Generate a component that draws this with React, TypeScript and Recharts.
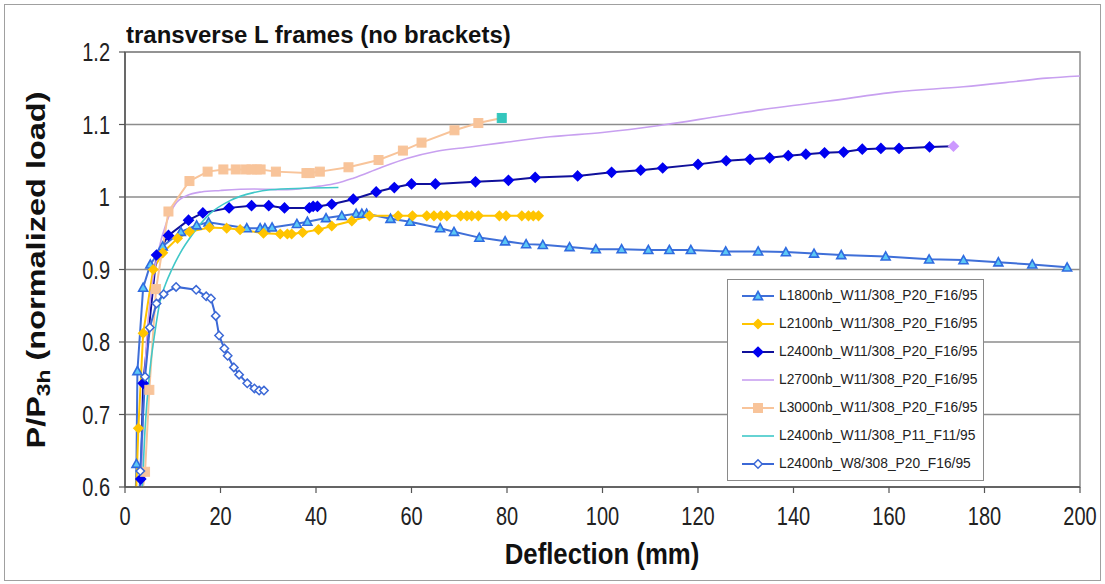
import React from 'react';
import { LineChart, Line, XAxis, YAxis, CartesianGrid, ReferenceArea } from 'recharts';

const FONT = '"Liberation Sans", Arial, Helvetica, sans-serif';

const xTicks = [0, 20, 40, 60, 80, 100, 120, 140, 160, 180, 200];
const yTicks = [0.6, 0.7, 0.8, 0.9, 1, 1.1, 1.2];

const L1800: [number, number][] = [
  [2.2, 0.58], [2.4, 0.632], [2.6, 0.76], [3.8, 0.875], [5.3, 0.907], [7.9, 0.932], [11.7, 0.952],
  [15.0, 0.961], [17.5, 0.965], [25.5, 0.957], [28.3, 0.957], [29.3, 0.957], [30.8, 0.958],
  [36.0, 0.963], [38.2, 0.966], [42.1, 0.971], [45.4, 0.974], [48.4, 0.977], [49.6, 0.977],
  [50.6, 0.977], [55.6, 0.970], [59.7, 0.966], [66.0, 0.957], [68.9, 0.952], [74.2, 0.944],
  [79.6, 0.939], [84.0, 0.935], [87.5, 0.934], [93.1, 0.931], [98.6, 0.928], [104.0, 0.928],
  [109.6, 0.927], [114.0, 0.927], [118.5, 0.927], [125.8, 0.925], [132.6, 0.925], [138.4, 0.924],
  [144.3, 0.922], [150.0, 0.920], [159.3, 0.918], [168.4, 0.914], [175.6, 0.913], [182.9, 0.910],
  [190.0, 0.907], [197.3, 0.903],
];

const L2100: [number, number][] = [
  [2.3, 0.585], [2.8, 0.681], [3.8, 0.812], [5.9, 0.9], [7.9, 0.923], [11.0, 0.943], [13.5, 0.952],
  [17.7, 0.958], [21.3, 0.957], [24.1, 0.955], [29.0, 0.95], [32.5, 0.949], [34.0, 0.949],
  [34.9, 0.949], [37.2, 0.951], [40.5, 0.955], [43.3, 0.96], [47.5, 0.967], [51.2, 0.974],
  [57.2, 0.974], [60.2, 0.974], [63.2, 0.974], [64.7, 0.974], [66.1, 0.974], [67.4, 0.974],
  [70.3, 0.974], [71.6, 0.974], [72.6, 0.974], [74.0, 0.974], [78.4, 0.974], [79.8, 0.974],
  [83.1, 0.974], [84.5, 0.974], [85.5, 0.974], [86.6, 0.974],
];

const L2400: [number, number][] = [
  [3.0, 0.585], [3.3, 0.611], [3.8, 0.743], [6.6, 0.92], [9.1, 0.947], [13.3, 0.968], [16.3, 0.978],
  [21.8, 0.985], [26.5, 0.988], [30.1, 0.988], [33.4, 0.985], [38.6, 0.985], [39.4, 0.987],
  [40.3, 0.987], [43.3, 0.99], [47.8, 0.997], [52.6, 1.007], [56.4, 1.013], [60.0, 1.018],
  [65.0, 1.018], [73.4, 1.021], [80.3, 1.023], [85.9, 1.027], [94.8, 1.029], [101.9, 1.034],
  [108.0, 1.037], [112.6, 1.04], [120.0, 1.045], [125.9, 1.05], [130.9, 1.052], [135.0, 1.054],
  [138.9, 1.057], [142.6, 1.059], [146.5, 1.061], [150.5, 1.062], [154.4, 1.066], [158.3, 1.067],
  [162.1, 1.067], [168.5, 1.069], [173.5, 1.07],
];

const L2700: [number, number][] = [
  [3.3, 0.58], [3.8, 0.7], [4.5, 0.8], [5.5, 0.87], [6.8, 0.92], [8.7, 0.965], [10.5, 0.99],
  [13.0, 1.002], [16.0, 1.007], [20.0, 1.009], [27.0, 1.011], [34.0, 1.01], [40.8, 1.015],
  [44.3, 1.019], [47.8, 1.026], [53.4, 1.04], [59.0, 1.053], [65.3, 1.063], [72.3, 1.069],
  [79.2, 1.075], [89.0, 1.083], [100.0, 1.089], [112.3, 1.099], [125.0, 1.112], [135.0, 1.122],
  [147.0, 1.132], [161.6, 1.145], [175.6, 1.152], [186.0, 1.159], [193.0, 1.164], [200.0, 1.167],
];

const L3000: [number, number][] = [
  [3.5, 0.585], [4.2, 0.621], [5.1, 0.734], [6.5, 0.873], [9.1, 0.98], [13.5, 1.022], [17.3, 1.035],
  [20.6, 1.038], [23.2, 1.038], [25.3, 1.038], [26.5, 1.038], [27.6, 1.038], [28.4, 1.038],
  [31.6, 1.035], [38.0, 1.033], [38.7, 1.033], [40.8, 1.035], [46.8, 1.041], [53.1, 1.051],
  [58.2, 1.064], [62.1, 1.075], [69.0, 1.092], [74.0, 1.102], [78.9, 1.109],
];

const L2400P11: [number, number][] = [
  [3.0, 0.55], [3.5, 0.585], [4.2, 0.68], [5.2, 0.76], [6.3, 0.815], [7.3, 0.855], [8.5, 0.88],
  [9.8, 0.9], [11.5, 0.922], [14.3, 0.95], [17.8, 0.977], [22.0, 0.995], [26.9, 1.006],
  [30.4, 1.01], [37.3, 1.012], [44.7, 1.013],
];

const L2400W8: [number, number][] = [
  [3.0, 0.585], [3.2, 0.622], [4.2, 0.752], [5.2, 0.82], [6.6, 0.853], [8.1, 0.866], [10.7, 0.876],
  [14.9, 0.872], [17.0, 0.863], [18.0, 0.86], [19.0, 0.836], [19.7, 0.809], [20.8, 0.791],
  [21.5, 0.781], [22.8, 0.765], [23.9, 0.755], [25.6, 0.743], [27.1, 0.736], [28.1, 0.733],
  [29.1, 0.733],
];

type Shape = 'triangle' | 'diamond' | 'square' | 'none';

interface Series {
  name: string;
  data: [number, number][];
  stroke: string;
  width: number;
  shape: Shape;
  fill: string;
  mstroke: string;
  size: number;
  lastFill?: string;
  curve: 'linear' | 'monotone';
}

const SERIES: Series[] = [
  { name: 'L1800nb_W11/308_P20_F16/95', data: L1800, stroke: '#3f6fd8', width: 2, shape: 'triangle', fill: '#5cc8f5', mstroke: '#2f6be0', size: 4.5, curve: 'linear' },
  { name: 'L2100nb_W11/308_P20_F16/95', data: L2100, stroke: '#ffc400', width: 2, shape: 'diamond', fill: '#ffc400', mstroke: '#ffc400', size: 4.5, curve: 'linear' },
  { name: 'L2400nb_W11/308_P20_F16/95', data: L2400, stroke: '#10109a', width: 2, shape: 'diamond', fill: '#0000f0', mstroke: '#0000f0', size: 4.8, lastFill: '#cc99ff', curve: 'linear' },
  { name: 'L2700nb_W11/308_P20_F16/95', data: L2700, stroke: '#c8a0f0', width: 1.6, shape: 'none', fill: '#c8a0f0', mstroke: '#c8a0f0', size: 0, curve: 'monotone' },
  { name: 'L3000nb_W11/308_P20_F16/95', data: L3000, stroke: '#f8c49a', width: 2, shape: 'square', fill: '#f8c49a', mstroke: '#f8c49a', size: 4.5, lastFill: '#33c6bd', curve: 'linear' },
  { name: 'L2400nb_W11/308_P11_F11/95', data: L2400P11, stroke: '#40c8c8', width: 1.6, shape: 'none', fill: '#40c8c8', mstroke: '#40c8c8', size: 0, curve: 'monotone' },
  { name: 'L2400nb_W8/308_P20_F16/95', data: L2400W8, stroke: '#3b68d6', width: 2, shape: 'diamond', fill: '#ffffff', mstroke: '#3b68d6', size: 4.2, curve: 'linear' },
];

function Marker({ shape, cx, cy, s, fill, stroke }: { shape: Shape; cx: number; cy: number; s: number; fill: string; stroke: string }) {
  if (shape === 'triangle') {
    return <polygon points={`${cx},${cy - s} ${cx + s},${cy + s * 0.8} ${cx - s},${cy + s * 0.8}`} fill={fill} stroke={stroke} strokeWidth={1.6} />;
  }
  if (shape === 'diamond') {
    return <polygon points={`${cx},${cy - s} ${cx + s},${cy} ${cx},${cy + s} ${cx - s},${cy}`} fill={fill} stroke={stroke} strokeWidth={1.5} />;
  }
  if (shape === 'square') {
    return <rect x={cx - s} y={cy - s} width={2 * s} height={2 * s} fill={fill} stroke={stroke} strokeWidth={1} />;
  }
  return null;
}

const stretch = 1.25;

const XTick = (props: any) => {
  const { x, y, payload } = props;
  return (
    <g transform={`translate(${x},${y}) scale(1,${stretch})`}>
      <text x={0} y={0} dy="0.72em" textAnchor="middle" fontSize={20} fontFamily={FONT} fill="#222">
        {payload.value}
      </text>
    </g>
  );
};

const YTick = (props: any) => {
  const { x, y, payload } = props;
  return (
    <g transform={`translate(${x},${y}) scale(1,${stretch})`}>
      <text x={0} y={0} dy="0.36em" textAnchor="end" fontSize={20} fontFamily={FONT} fill="#222">
        {payload.value}
      </text>
    </g>
  );
};

function LegendBox() {
  return (
    <div
      style={{
        position: 'absolute', left: 727, top: 279, width: 257, height: 202,
        border: '1px solid #8a8a8a', background: '#fff', boxSizing: 'border-box',
      }}
    >
      {SERIES.map((s, i) => (
        <div key={s.name} style={{ position: 'absolute', left: 0, top: 16 + 28 * i - 10, height: 20, width: 255 }}>
          <svg width={40} height={20} style={{ position: 'absolute', left: 12, top: 0 }}>
            <line x1={2} y1={10} x2={34} y2={10} stroke={s.stroke} strokeWidth={s.width} />
            <Marker shape={s.shape} cx={18} cy={10} s={s.size} fill={s.fill} stroke={s.mstroke} />
          </svg>
          <div
            style={{
              position: 'absolute', left: 51, top: 0, height: 20, lineHeight: '20px',
              fontFamily: FONT, fontSize: 13.8, color: '#222', whiteSpace: 'nowrap',
              transform: 'scale(1,1.12)', transformOrigin: 'left center',
            }}
          >
            {s.name}
          </div>
        </div>
      ))}
    </div>
  );
}

export default function App() {
  return (
    <div style={{ position: 'absolute', left: 0, top: 0, width: 1105, height: 584, background: '#fff', overflow: 'hidden' }}>
      <div style={{ position: 'absolute', left: 4, top: 4, width: 1097, height: 577, border: '1px solid #a0a0a0', boxSizing: 'border-box' }} />
      <LineChart width={1105} height={584} margin={{ top: 52, right: 25, bottom: 0, left: 0 }}>
        <CartesianGrid horizontal vertical={false} stroke="#8c8c8c" strokeWidth={1.5} />
        <ReferenceArea x1={0} x2={200} y1={0.6} y2={1.2} fill="none" stroke="#8c8c8c" strokeWidth={1.5} ifOverflow="visible" />
        <XAxis
          type="number" dataKey="x" domain={[0, 200]} ticks={xTicks} allowDataOverflow
          height={97} tickSize={6} tickMargin={14} tick={<XTick />}
          axisLine={{ stroke: '#555', strokeWidth: 1.5 }} tickLine={{ stroke: '#555', strokeWidth: 1.2 }}
        />
        <YAxis
          type="number" dataKey="y" domain={[0.6, 1.2]} ticks={yTicks} allowDataOverflow
          width={125} tickSize={6} tickMargin={9} tick={<YTick />}
          axisLine={{ stroke: '#555', strokeWidth: 1.5 }} tickLine={{ stroke: '#555', strokeWidth: 1.2 }}
        />
        {SERIES.map((s) => {
          const pts = s.data.map(([x, y]) => ({ x, y }));
          return (
            <Line
              key={s.name}
              name={s.name}
              data={pts}
              dataKey="y"
              type={s.curve}
              stroke={s.stroke}
              strokeWidth={s.width}
              isAnimationActive={false}
              activeDot={false}
              legendType="none"
              dot={
                s.shape === 'none'
                  ? false
                  : (p: any) => {
                      const k = `${s.name}-${p.index}`;
                      if (p.cx == null || p.cy == null || isNaN(p.cx) || isNaN(p.cy)) return <g key={k} />;
                      const last = p.index === pts.length - 1 && s.lastFill;
                      const f = last ? (s.lastFill as string) : s.fill;
                      const st = last ? (s.lastFill as string) : s.mstroke;
                      return (
                        <g key={k}>
                          <Marker shape={s.shape} cx={p.cx} cy={p.cy} s={s.size} fill={f} stroke={st} />
                        </g>
                      );
                    }
              }
            />
          );
        })}
      </LineChart>
      <div
        style={{
          position: 'absolute', left: 126, top: 25, fontFamily: FONT, fontWeight: 700, fontSize: 22,
          color: '#111', whiteSpace: 'nowrap', lineHeight: '22px', transform: 'scale(1.09,1.05)', transformOrigin: 'left center',
        }}
      >
        transverse L frames (no brackets)
      </div>
      <div
        style={{
          position: 'absolute', left: 40, top: 270, fontFamily: FONT, fontWeight: 700, fontSize: 25,
          color: '#111', whiteSpace: 'nowrap', lineHeight: '28px',
          transform: 'translate(-50%, -50%) rotate(-90deg) scale(1.3, 1)',
        }}
      >
        P/P<span style={{ fontSize: '0.7em', verticalAlign: '-0.3em' }}>3h</span> (normalized load)
      </div>
      <div
        style={{
          position: 'absolute', left: 602, top: 553, fontFamily: FONT, fontWeight: 700, fontSize: 25,
          color: '#111', whiteSpace: 'nowrap', lineHeight: '28px',
          transform: 'translate(-50%, -50%) scale(1.03, 1.2)',
        }}
      >
        Deflection (mm)
      </div>
      <LegendBox />
    </div>
  );
}
